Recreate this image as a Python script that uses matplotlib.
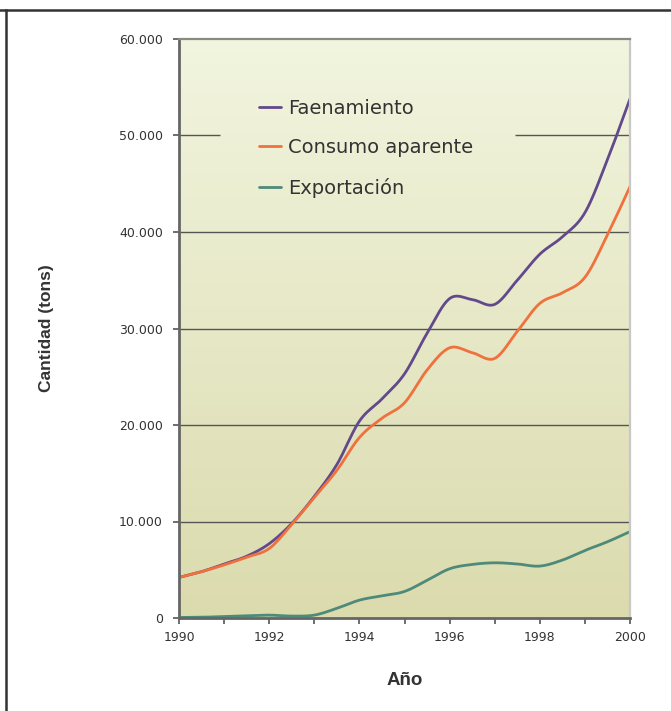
import numpy as np
import matplotlib
matplotlib.use("Agg")
import matplotlib.pyplot as plt
from matplotlib.lines import Line2D

# Production series (tons), half-year readings 1990-2000
years = [1990.0, 1990.5, 1991.0, 1991.5, 1992.0, 1992.5, 1993.0, 1993.5, 1994.0, 1994.5,
         1995.0, 1995.5, 1996.0, 1996.5, 1997.0, 1997.5, 1998.0, 1998.5, 1999.0, 1999.5, 2000.0]
faenamiento = [4200, 4800, 5600, 6400, 7700, 9800, 12600, 15900, 20400, 22700,
               25300, 29500, 33100, 33000, 32500, 35000, 37700, 39500, 42000, 47500, 53800]
consumo_aparente = [4200, 4800, 5500, 6300, 7200, 9700, 12500, 15300, 18700, 20700,
                    22300, 25700, 28000, 27500, 26900, 29700, 32600, 33700, 35300, 39700, 44700]
exportacion = [50, 80, 150, 230, 300, 200, 300, 1000, 1850, 2300,
               2750, 3900, 5100, 5550, 5720, 5600, 5380, 6000, 7000, 7900, 8950]

series_names = ["Faenamiento", "Consumo aparente", "Exportación"]
series_colors = ["#62498c", "#f0703e", "#4e8a79"]

y_ticks = [0, 10000, 20000, 30000, 40000, 50000, 60000]
y_tick_labels = ["0", "10.000", "20.000", "30.000", "40.000", "50.000", "60.000"]
x_ticks_major = [1990, 1992, 1994, 1996, 1998, 2000]
x_ticks_minor = list(range(1990, 2001))


def smooth(x, y, n=20):
    """Catmull-Rom curve through the points (smoothed line rendering)."""
    x = np.asarray(x, float)
    y = np.asarray(y, float)
    px = np.concatenate([[2 * x[0] - x[1]], x, [2 * x[-1] - x[-2]]])
    py = np.concatenate([[2 * y[0] - y[1]], y, [2 * y[-1] - y[-2]]])
    t = np.linspace(0, 1, n, endpoint=False)
    xs, ys = [], []
    for i in range(1, len(px) - 2):
        for arr, out in ((px, xs), (py, ys)):
            p0, p1, p2, p3 = arr[i - 1], arr[i], arr[i + 1], arr[i + 2]
            out.extend(0.5 * (2 * p1 + (-p0 + p2) * t
                              + (2 * p0 - 5 * p1 + 4 * p2 - p3) * t ** 2
                              + (-p0 + 3 * p1 - 3 * p2 + p3) * t ** 3))
    xs.append(x[-1])
    ys.append(y[-1])
    return np.array(xs), np.array(ys)


W, H = 671, 711
fig = plt.figure(figsize=(W / 100, H / 100), dpi=100)
fig.patch.set_facecolor("white")

# outer frame: top and left rules
fig.add_artist(Line2D([0, 1], [1 - 10 / H, 1 - 10 / H], color="#333333", lw=1.8,
                      transform=fig.transFigure))
fig.add_artist(Line2D([6 / W, 6 / W], [0, 1 - 10 / H], color="#333333", lw=1.8,
                      transform=fig.transFigure))

left, right, top, bottom = 179, 630, 39, 618
ax = fig.add_axes([left / W, 1 - bottom / H, (right - left) / W, (bottom - top) / H])

# vertical gradient background: light at the top, olive at the bottom
grad = np.linspace(0, 1, 256)[:, None]
c_top = np.array([242, 245, 223]) / 255
c_bot = np.array([219, 219, 174]) / 255
img = c_top[None, None, :] * (1 - grad[:, :, None]) + c_bot[None, None, :] * grad[:, :, None]
ax.imshow(img, extent=[1990, 2000, 0, 60000], aspect="auto", zorder=0, origin="upper")
ax.set_xlim(1990, 2000)
ax.set_ylim(0, 60000)

# horizontal gridlines (the legend area interrupts the 50.000 line)
for v in y_ticks[1:-1]:
    if v == 50000:
        ax.hlines(v, 1990, 1990 + 10 * (220 - left) / (right - left), color="#555555", lw=1.0, zorder=1)
        ax.hlines(v, 1990 + 10 * (515 - left) / (right - left), 2000, color="#555555", lw=1.0, zorder=1)
    else:
        ax.axhline(v, color="#555555", lw=1.0, zorder=1)

for vals, name, col in zip([faenamiento, consumo_aparente, exportacion], series_names, series_colors):
    sx, sy = smooth(years, vals)
    ax.plot(sx, sy, color=col, lw=2.0, label=name, zorder=3, solid_capstyle="round")

for side, col, lw in (("left", "#666666", 2.0), ("bottom", "#666666", 2.0),
                      ("top", "#8a8a80", 1.6), ("right", "#c8c8c8", 1.6)):
    ax.spines[side].set_color(col)
    ax.spines[side].set_linewidth(lw)
    ax.spines[side].set_zorder(4)

ax.set_yticks(y_ticks)
ax.set_yticklabels(y_tick_labels)
ax.set_xticks(x_ticks_minor)
ax.set_xticklabels([str(y) if y in x_ticks_major else "" for y in x_ticks_minor])
ax.tick_params(axis="both", direction="out", length=4.5, width=1.2, color="#555555",
               labelcolor="#333333", labelsize=9)
ax.tick_params(axis="y", pad=7)
ax.tick_params(axis="x", pad=5)

ax.set_ylabel("Cantidad (tons)", fontsize=12.5, fontweight="bold", color="#333333",
              family="Liberation Sans", labelpad=47)
ax.set_xlabel("Año", fontsize=13.5, fontweight="bold", color="#333333",
              family="Liberation Sans", labelpad=20)

leg = ax.legend(loc="upper left", bbox_to_anchor=((251 - left) / (right - left), 1 - (91 - top) / (bottom - top)),
                frameon=False, fontsize=14, handlelength=1.15, handletextpad=0.35,
                labelspacing=1.05, borderaxespad=0)
for txt in leg.get_texts():
    txt.set_color("#333333")

fig.savefig("out.png", dpi=100, facecolor="white")
